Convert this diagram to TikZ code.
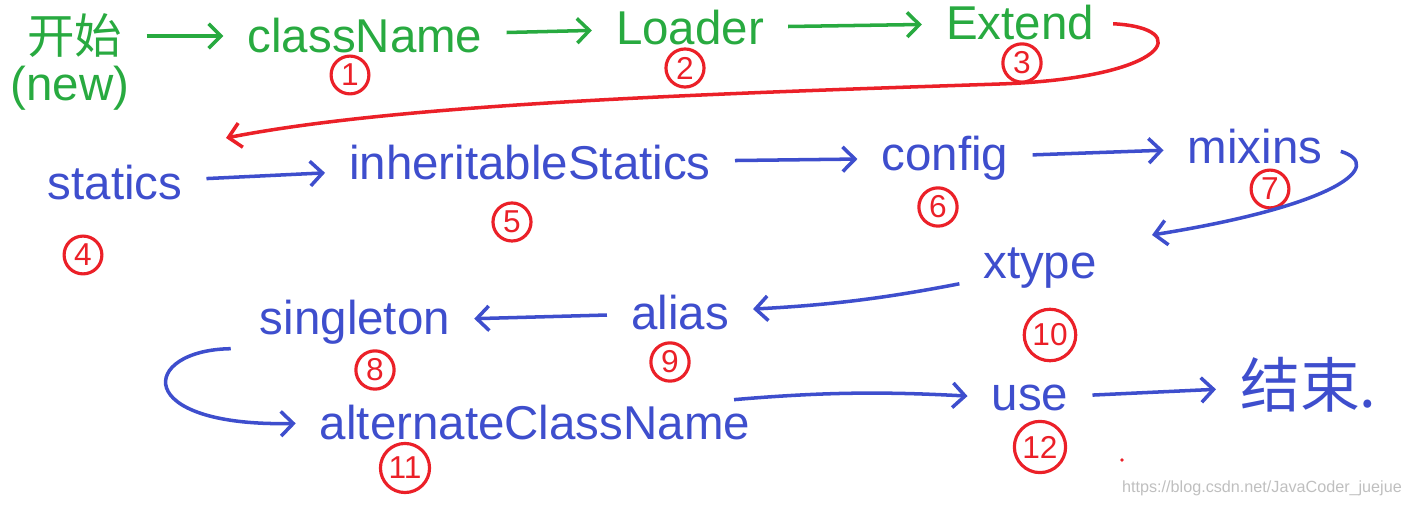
\documentclass[tikz,border=0pt]{standalone}
\usepackage{fontspec}
\setmainfont{Liberation Sans}
\newfontfamily\cjk{Noto Sans CJK SC}
\usetikzlibrary{arrows.meta}
\definecolor{hgreen}{RGB}{40,170,64}
\definecolor{hblue}{RGB}{62,78,205}
\definecolor{hred}{RGB}{235,32,40}
\tikzset{
    word/.style={font=\fontsize{13.5}{15}\selectfont, inner sep=1pt},
    gword/.style={word, text=hgreen},
    bword/.style={word, text=hblue},
    num/.style={circle, draw=hred, text=hred, line width=0.9pt, minimum size=0.34cm, inner sep=1pt, font=\fontsize{9}{9}\selectfont},
    tip/.style={-{Straight Barb[length=3.5pt,width=7pt]}, line width=1pt},
    garrow/.style={tip, draw=hgreen, shorten <=0.2cm, shorten >=0.2cm},
    barrow/.style={tip, draw=hblue, shorten <=0.2cm, shorten >=0.2cm},
    rcurve/.style={tip, draw=hred},
    bcurve/.style={tip, draw=hblue},
}
\begin{document}
\begin{tikzpicture}[x=0.01cm,y=-0.01cm]
            \useasboundingbox (0,0) rectangle (1408,507);

            \node[gword] (start) at (75,36) {\cjk 开始};
            \node[gword] (startnew) at (70,88) {(new)};
            \node[gword] (cls) at (365,36) {className};
            \node[gword] (loader) at (690,28) {Loader};
            \node[gword] (extend) at (1020,23) {Extend};

            \node[bword] (statics) at (115,183) {statics};
            \node[bword] (inherit) at (530,163) {inheritableStatics};
            \node[bword] (config) at (945,158) {config};
            \node[bword] (mixins) at (1255,147) {mixins};
            \node[bword] (xtype) at (1040,268) {xtype};
            \node[bword] (alias) at (680,313) {alias};
            \node[bword] (singleton) at (355,322) {singleton};
            \node[bword] (altname) at (535,423) {alternateClassName};
            \node[bword] (use) at (1030,398) {use};
            \node[bword, font=\fontsize{17}{19}\selectfont, anchor=west] (finish) at (1236,385) {\cjk 结束.};

            \node[num] (n1) at (350,75) {1};
            \node[num] (n2) at (685,68) {2};
            \node[num] (n3) at (1022,63) {3};
            \node[num] (n4) at (83,255) {4};
            \node[num] (n5) at (512,222) {5};
            \node[num] (n6) at (938,207) {6};
            \node[num] (n7) at (1270,189) {7};
            \node[num] (n8) at (375,370) {8};
            \node[num] (n9) at (670,362) {9};
            \node[num] (n10) at (1050,335) {10};
            \node[num] (n11) at (405,468) {11};
            \node[num] (n12) at (1040,447) {12};

            \coordinate (redtip) at (226,138);
            \coordinate (bluetip) at (1152,235);

            \draw[garrow] (start) -- (cls);
            \draw[garrow] (cls) -- (loader);
            \draw[garrow] (loader) -- (extend);
            \draw[rcurve, shorten <=0.15cm] (extend.east) .. controls (1195,28) and (1170,78) .. (1000,84)
                .. controls (700,94) and (400,104) .. (redtip);

            \draw[barrow] (statics) -- (inherit);
            \draw[barrow] (inherit) -- (config);
            \draw[barrow] (config) -- (mixins);
            \draw[bcurve, shorten <=0.15cm] (mixins.east) .. controls (1385,165) and (1340,205) .. (bluetip);
            \draw[barrow] (xtype) to[bend left=4] (alias);
            \draw[barrow] (alias) -- (singleton);
            \draw[bcurve, shorten <=0.25cm, shorten >=0.2cm] (singleton.south west) .. controls (140,350) and (130,427) .. (altname.west);
            \draw[barrow] (altname) to[bend left=4] (use);
            \draw[barrow] (use) -- (finish);

            \fill[hred] (1122,460) circle (0.018cm);
            \node[font=\fontsize{4.6}{5}\selectfont, text=black!25] (mark) at (1262,488) {https://blog.csdn.net/JavaCoder\_juejue};
        \end{tikzpicture}
\end{document}
